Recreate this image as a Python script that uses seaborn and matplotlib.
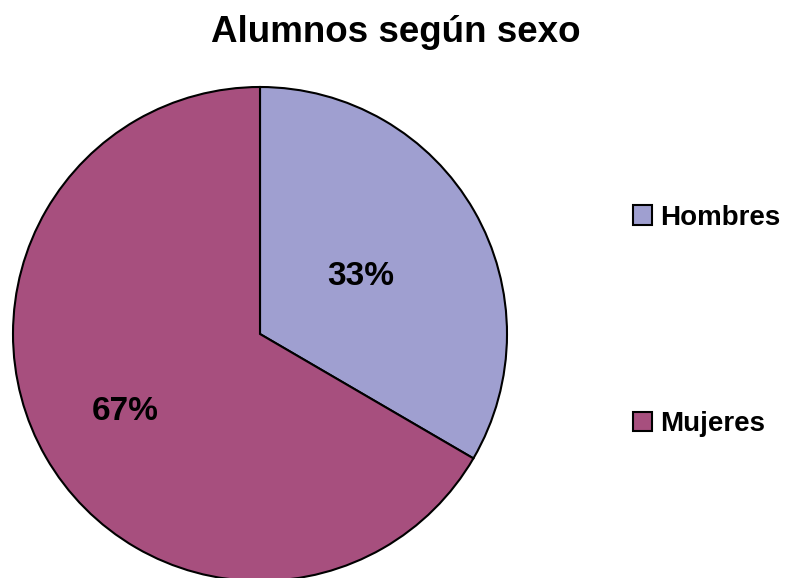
import matplotlib
matplotlib.use('Agg')
import matplotlib.pyplot as plt
import seaborn as sns
import numpy as np

# data
categories = ['Hombres', 'Mujeres']
shares = [33.4, 66.6]
colors = ['#9F9FD0', '#A74F7E']
label_dist = [0.47, 0.63]

sns.set_theme(style='white')
plt.rcParams['font.family'] = ['Liberation Sans', 'DejaVu Sans']
plt.rcParams['text.color'] = 'black'

fig = plt.figure(figsize=(7.91, 5.78), dpi=100)
# pie radius 247 px, centre at (260, 334) px
R = 247
ax = fig.add_axes([(260 - R) / 791, (578 - 334 - R) / 578, 2 * R / 791, 2 * R / 578])

wedges, _ = ax.pie(shares, colors=colors, startangle=90, counterclock=False,
                   wedgeprops=dict(edgecolor='black', linewidth=1.5))
ax.set_xlim(-1, 1)
ax.set_ylim(-1, 1)
ax.set_aspect('equal')
ax.axis('off')
for w in wedges:
    w.set_clip_on(False)

# percentage labels
for w, v, d in zip(wedges, shares, label_dist):
    ang = np.deg2rad((w.theta1 + w.theta2) / 2)
    ax.text(d * np.cos(ang), d * np.sin(ang), f'{v:.0f}%', ha='center', va='center',
            fontsize=24, fontweight='bold', color='black')

fig.text(396 / 791, 1 - 32 / 578, 'Alumnos según sexo', ha='center', va='center',
         fontsize=26.5, fontweight='bold', color='black')

leg = fig.legend(wedges, categories, loc='center left', bbox_to_anchor=(619 / 791, 1 - 321 / 578),
                 frameon=False, borderpad=0, handlelength=0.68, handleheight=0.68,
                 handletextpad=0.3, labelspacing=6.5,
                 prop=dict(weight='bold', size=20))
for t in leg.get_texts():
    t.set_color('black')

fig.savefig('out.png', dpi=100, facecolor='white')
